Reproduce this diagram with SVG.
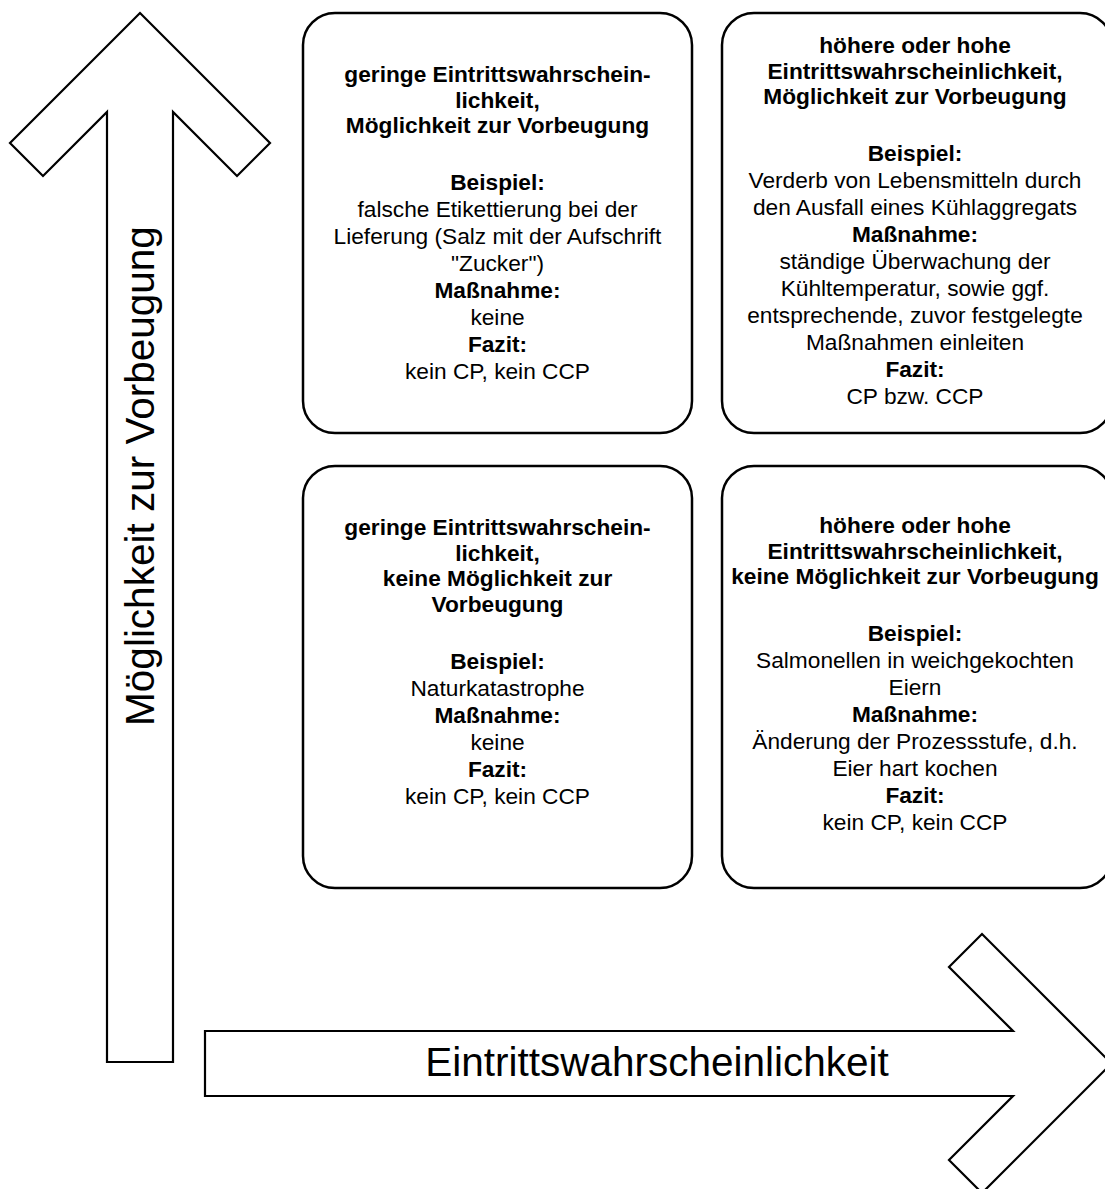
<svg xmlns="http://www.w3.org/2000/svg" width="1105" height="1189" viewBox="0 0 1105 1189">
<style>
.box{fill:#fff;stroke:#000;stroke-width:2.5}
.arrow{fill:#fff;stroke:#000;stroke-width:2.2;stroke-linejoin:miter}
text{font-family:"Liberation Sans",Arial,sans-serif;fill:#000}
.t{font-size:22.7px;text-anchor:middle}
.b{font-weight:bold}
.big{font-size:40.5px;text-anchor:middle}
</style>
<rect width="1105" height="1189" fill="#fff"/>
<g id="connectors">
<g id="arrow-vertical">
<polygon class="arrow" points="140,13 270,143 237,176 173,112 173,1062 107,1062 107,112 43,176 10,143"/>
<text class="big" transform="translate(154,476) rotate(-90)">Möglichkeit zur Vorbeugung</text>
</g>
<g id="arrow-horizontal">
<polygon class="arrow" points="205,1031 1013,1031 949,967 982,934 1111.5,1063.5 982,1193 949,1160 1013,1096 205,1096"/>
<text class="big" x="657" y="1076">Eintrittswahrscheinlichkeit</text>
</g>
</g>
<g id="box-top-left">
<rect class="box" x="303" y="13" width="389" height="420" rx="32"/>
<text class="t b" x="497.5" y="82">geringe Eintrittswahrschein-</text>
<text class="t b" x="497.5" y="107.5">lichkeit,</text>
<text class="t b" x="497.5" y="133">Möglichkeit zur Vorbeugung</text>
<text class="t b" x="497.5" y="190">Beispiel:</text>
<text class="t" x="497.5" y="217">falsche Etikettierung bei der</text>
<text class="t" x="497.5" y="244">Lieferung (Salz mit der Aufschrift</text>
<text class="t" x="497.5" y="271">"Zucker")</text>
<text class="t b" x="497.5" y="298">Maßnahme:</text>
<text class="t" x="497.5" y="325">keine</text>
<text class="t b" x="497.5" y="352">Fazit:</text>
<text class="t" x="497.5" y="379">kein CP, kein CCP</text>
</g>
<g id="box-top-right">
<rect class="box" x="722" y="13" width="390" height="420" rx="32"/>
<text class="t b" x="915" y="53">höhere oder hohe</text>
<text class="t b" x="915" y="78.5">Eintrittswahrscheinlichkeit,</text>
<text class="t b" x="915" y="104">Möglichkeit zur Vorbeugung</text>
<text class="t b" x="915" y="161">Beispiel:</text>
<text class="t" x="915" y="188">Verderb von Lebensmitteln durch</text>
<text class="t" x="915" y="215">den Ausfall eines Kühlaggregats</text>
<text class="t b" x="915" y="242">Maßnahme:</text>
<text class="t" x="915" y="269">ständige Überwachung der</text>
<text class="t" x="915" y="296">Kühltemperatur, sowie ggf.</text>
<text class="t" x="915" y="323">entsprechende, zuvor festgelegte</text>
<text class="t" x="915" y="350">Maßnahmen einleiten</text>
<text class="t b" x="915" y="377">Fazit:</text>
<text class="t" x="915" y="404">CP bzw. CCP</text>
</g>
<g id="box-bottom-left">
<rect class="box" x="303" y="466" width="389" height="422" rx="32"/>
<text class="t b" x="497.5" y="535">geringe Eintrittswahrschein-</text>
<text class="t b" x="497.5" y="560.5">lichkeit,</text>
<text class="t b" x="497.5" y="586">keine Möglichkeit zur</text>
<text class="t b" x="497.5" y="611.5">Vorbeugung</text>
<text class="t b" x="497.5" y="668.5">Beispiel:</text>
<text class="t" x="497.5" y="695.5">Naturkatastrophe</text>
<text class="t b" x="497.5" y="722.5">Maßnahme:</text>
<text class="t" x="497.5" y="749.5">keine</text>
<text class="t b" x="497.5" y="776.5">Fazit:</text>
<text class="t" x="497.5" y="803.5">kein CP, kein CCP</text>
</g>
<g id="box-bottom-right">
<rect class="box" x="722" y="466" width="390" height="422" rx="32"/>
<text class="t b" x="915" y="533">höhere oder hohe</text>
<text class="t b" x="915" y="558.5">Eintrittswahrscheinlichkeit,</text>
<text class="t b" x="915" y="584">keine Möglichkeit zur Vorbeugung</text>
<text class="t b" x="915" y="641">Beispiel:</text>
<text class="t" x="915" y="668">Salmonellen in weichgekochten</text>
<text class="t" x="915" y="695">Eiern</text>
<text class="t b" x="915" y="722">Maßnahme:</text>
<text class="t" x="915" y="749">Änderung der Prozessstufe, d.h.</text>
<text class="t" x="915" y="776">Eier hart kochen</text>
<text class="t b" x="915" y="803">Fazit:</text>
<text class="t" x="915" y="830">kein CP, kein CCP</text>
</g>
</svg>
